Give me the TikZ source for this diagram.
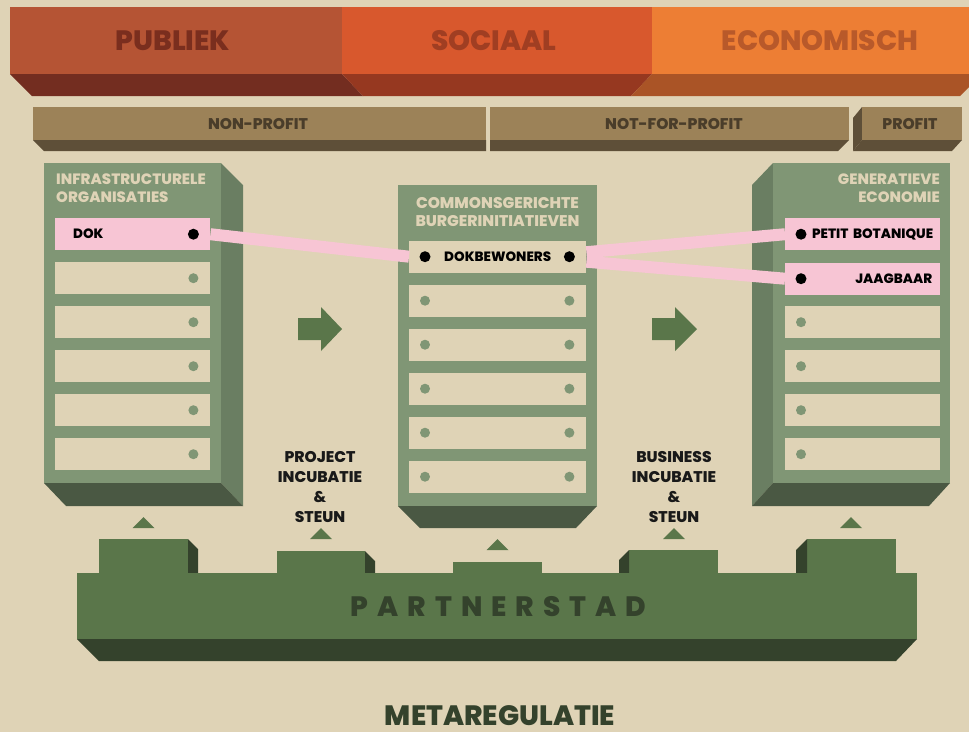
\documentclass[tikz,border=0pt]{standalone}
\usepackage{fontspec}
\setmainfont{Poppins}[BoldFont={Poppins ExtraBold}]
\usetikzlibrary{calc}

\definecolor{bg}{HTML}{DFD3B6}
\definecolor{pubF}{HTML}{B55434}
\definecolor{pubB}{HTML}{732D20}
\definecolor{pubT}{HTML}{7A2E1E}
\definecolor{socF}{HTML}{D8582D}
\definecolor{socB}{HTML}{963820}
\definecolor{socT}{HTML}{A03E22}
\definecolor{ecoF}{HTML}{ED7E34}
\definecolor{ecoB}{HTML}{AA5426}
\definecolor{ecoT}{HTML}{B8592A}
\definecolor{barF}{HTML}{9C8258}
\definecolor{barB}{HTML}{5E4F38}
\definecolor{barT}{HTML}{4A3D2A}
\definecolor{towF}{HTML}{809675}
\definecolor{towS}{HTML}{6A7E62}
\definecolor{towB}{HTML}{4A5843}
\definecolor{linkpink}{HTML}{F7C5D4}
\definecolor{base}{HTML}{5A764A}
\definecolor{baseD}{HTML}{34422C}

\tikzset{
  toplabel/.style={font=\fontsize{28}{28}\selectfont\bfseries, inner sep=0pt},
  barlabel/.style={font=\fontsize{15.5}{15.5}\selectfont\bfseries, text=barT, inner sep=0pt},
  towertitle/.style={font=\fontsize{15}{18}\selectfont\bfseries, text=bg, inner sep=0pt},
  slot/.style={fill=bg, minimum width=155pt, minimum height=32pt, inner sep=0pt, anchor=north west},
  pinkslot/.style={slot, fill=linkpink, text=black, font=\fontsize{13.5}{13.5}\selectfont\bfseries},
  middleslot/.style={slot, minimum width=177pt},
  greydot/.style={circle, fill=towF, minimum size=10pt, inner sep=0pt},
  blackdot/.style={circle, fill=black, minimum size=11pt, inner sep=0pt},
  link/.style={draw=linkpink, line width=12pt},
  inclabel/.style={font=\fontsize{15.5}{20}\selectfont\bfseries, align=center, text=black!90, inner sep=0pt},
}

\begin{document}
\begin{tikzpicture}[x=1pt,y=-1pt]
\fill[bg] (0,0) rectangle (969,732);
\useasboundingbox (0,0) rectangle (969,732);
\clip (0,0) rectangle (969,732);

% --- sector banner
\fill[pubF] (10,7) rectangle (342,74);
\fill[pubB] (10,74) -- (342,74) -- (363,96) -- (32,96) -- cycle;
\fill[socF] (342,7) rectangle (652,74);
\fill[socB] (342,74) -- (652,74) -- (631,96) -- (363,96) -- cycle;
\fill[ecoF] (652,7) rectangle (982,74);
\fill[ecoB] (652,74) -- (982,74) -- (960,96) -- (631,96) -- cycle;
\node[toplabel, text=pubT] (publiek) at (173,41) {PUBLIEK};
\node[toplabel, text=socT] (sociaal) at (494,41) {SOCIAAL};
\node[toplabel, text=ecoT] (economisch) at (820,41) {ECONOMISCH};

% --- profit bars
\fill[barF] (33,107) rectangle (486,140);
\fill[barB] (33,140) -- (486,140) -- (486,151) -- (44,151) -- cycle;
\fill[barF] (490,107) rectangle (849,140);
\fill[barB] (490,140) -- (849,140) -- (838,151) -- (490,151) -- cycle;
\fill[barB] (862,107) -- (853,118) -- (853,151) -- (862,140) -- cycle;
\fill[barF] (862,107) rectangle (962,140);
\fill[barB] (862,140) -- (962,140) -- (952,151) -- (853,151) -- cycle;
\node[barlabel] (nonprofit) at (258,124) {NON-PROFIT};
\node[barlabel] (notforprofit) at (674,124) {NOT-FOR-PROFIT};
\node[barlabel] (profit) at (910,124) {PROFIT};

% --- left tower
\fill[towS] (221,163) -- (243,185) -- (243,506) -- (221,483) -- cycle;
\fill[towB] (44,483) -- (221,483) -- (243,506) -- (66,506) -- cycle;
\fill[towF] (44,163) rectangle (221,483);
\node[towertitle, align=left, anchor=north west] (inftitle) at (56,174) {INFRASTRUCTURELE\\ORGANISATIES};
\node[pinkslot, text width=119pt, inner xsep=18pt, align=left] (dok) at (55,218) {DOK};
\node[blackdot] (dokdot) at ($(dok.east)+(-17,0)$) {};
\foreach \i in {1,...,5} {
  \node[slot] (inf\i) at (55,{218+44*\i}) {};
  \node[greydot] (infdot\i) at ($(inf\i.east)+(-17,0)$) {};
}

% --- middle tower
\fill[towB] (398,506) -- (597,506) -- (576,528) -- (420,528) -- cycle;
\fill[towF] (398,185) rectangle (597,506);
\node[towertitle, align=center, anchor=north, font=\fontsize{15.5}{18}\selectfont\bfseries] (comtitle) at (497.5,197) {COMMONSGERICHTE\\BURGERINITIATIEVEN};
\node[pinkslot, middleslot] (dokb) at (409,240.5) {DOKBEWONERS};
\node[blackdot] (dokbl) at ($(dokb.west)+(16,0)$) {};
\node[blackdot] (dokbr) at ($(dokb.east)+(-17,0)$) {};
\foreach \i in {1,...,5} {
  \node[slot, middleslot] (com\i) at (409,{240.5+44*\i}) {};
  \node[greydot] (comdotl\i) at ($(com\i.west)+(16,0)$) {};
  \node[greydot] (comdotr\i) at ($(com\i.east)+(-17,0)$) {};
}

% --- right tower
\fill[towS] (773,163) -- (752,185) -- (752,506) -- (773,483) -- cycle;
\fill[towB] (773,483) -- (950,483) -- (929,506) -- (752,506) -- cycle;
\fill[towF] (773,163) rectangle (950,483);
\node[towertitle, align=right, anchor=north east] (gentitle) at (940,174) {GENERATIEVE\\ECONOMIE};
\node[pinkslot, text width=141pt, inner xsep=7pt, align=right] (petit) at (785,218) {PETIT BOTANIQUE};
\node[blackdot] (petitdot) at ($(petit.west)+(16,0)$) {};
\node[pinkslot, text width=139pt, inner xsep=8pt, align=right] (jaag) at (785,262.5) {JAAGBAAR};
\node[blackdot] (jaagdot) at ($(jaag.west)+(16,0)$) {};
\foreach \i in {2,...,5} {
  \node[slot] (gen\i) at (785,{218+44*\i}) {};
  \node[greydot] (gendot\i) at ($(gen\i.west)+(16,0)$) {};
}

% --- links between initiatives
\draw[link] (dok.east) -- (dokb.west);
\draw[link] ($(dokb.east)+(0,-4.5)$) -- (petit.west);
\draw[link] ($(dokb.east)+(0,5)$) -- (jaag.west);

% --- flow arrows
\fill[base] (298,318) -- (321,318) -- (321,307) -- (342,329) -- (321,351) -- (321,340) -- (298,340) -- cycle;
\fill[base] (652,318) -- (675,318) -- (675,307) -- (697,329) -- (675,351) -- (675,340) -- (652,340) -- cycle;

% --- support labels
\node[inclabel] (project) at (320,486.5) {PROJECT\\INCUBATIE\\\&\\STEUN};
\node[inclabel] (business) at (674,486.5) {BUSINESS\\INCUBATIE\\\&\\STEUN};

% --- small pointers
\fill[base] (143.5,517) -- (154.5,528) -- (132.5,528) -- cycle;
\fill[base] (321,528) -- (332,539) -- (310,539) -- cycle;
\fill[base] (497.5,539) -- (508.5,550) -- (486.5,550) -- cycle;
\fill[base] (674,528) -- (685,539) -- (663,539) -- cycle;
\fill[base] (851,517) -- (862,528) -- (840,528) -- cycle;

% --- city platform
\fill[base] (99,539) rectangle (188,574);
\fill[baseD] (188,539) -- (198,549) -- (198,573) -- (188,573) -- cycle;
\fill[base] (277,551) rectangle (365,574);
\fill[baseD] (365,551) -- (375,561) -- (375,573) -- (365,573) -- cycle;
\fill[base] (453,562) rectangle (542,574);
\fill[base] (629,550) rectangle (718,574);
\fill[baseD] (629,550) -- (619,560) -- (619,573) -- (629,573) -- cycle;
\fill[base] (807,539) rectangle (896,574);
\fill[baseD] (807,539) -- (796,550) -- (796,573) -- (807,573) -- cycle;
\fill[base] (77,573) rectangle (917,639);
\fill[baseD] (77,639) -- (917,639) -- (896,661) -- (99,661) -- cycle;
\node[font=\fontsize{28}{28}\selectfont\bfseries, text=baseD, inner sep=0pt] (partnerstad) at (498.5,607)
  {P\kern9pt A\kern9pt R\kern9pt T\kern9pt N\kern9pt E\kern9pt R\kern9pt S\kern9pt T\kern9pt A\kern9pt D};

\node[font=\fontsize{28}{28}\selectfont\bfseries, text=baseD, inner sep=0pt] (meta) at (500,715.5) {METAREGULATIE};
\end{tikzpicture}
\end{document}
